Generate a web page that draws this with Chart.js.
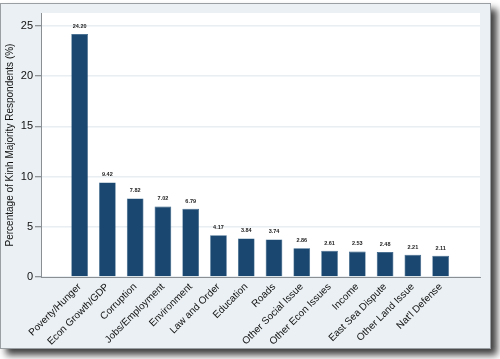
<!DOCTYPE html>
<html>
<head>
<meta charset="utf-8">
<script src="https://cdn.jsdelivr.net/npm/chart.js@4/dist/chart.umd.min.js"></script>
<style>
html,body{margin:0;padding:0;background:#ffffff;}
#wrap{width:500px;height:359px;position:relative;}
</style>
</head>
<body>
<div id="wrap"><canvas id="c" width="500" height="359"></canvas></div>
<script>
const categories = ["Poverty/Hunger","Econ Growth/GDP","Corruption","Jobs/Employment","Environment","Law and Order","Education","Roads","Other Social Issue","Other Econ Issues","Income","East Sea Dispute","Other Land Issue","Nat'l Defense"];
const percentages = [24.20, 9.42, 7.82, 7.02, 6.79, 4.17, 3.84, 3.74, 2.86, 2.61, 2.53, 2.48, 2.21, 2.11];
const yTicks = [0, 5, 10, 15, 20, 25];
const yTitle = "Percentage of Kinh Majority Respondents (%)";

const FONT = "'Liberation Sans', Arial, Helvetica, sans-serif";
const FRAME_BG = "#eaf0f3";
const BAR = "#1a476f";

const framePlugin = {
  id: 'frame',
  beforeDraw(chart) {
    const ctx = chart.ctx;
    const ca = chart.chartArea;
    ctx.save();
    ctx.fillStyle = '#ffffff';
    ctx.fillRect(0, 0, chart.width, chart.height);
    // shadow + frame
    ctx.shadowColor = 'rgba(0,0,0,0.75)';
    ctx.shadowBlur = 7;
    ctx.shadowOffsetX = 6;
    ctx.shadowOffsetY = 6;
    ctx.fillStyle = FRAME_BG;
    ctx.fillRect(0, 3, 491, 346);
    ctx.shadowColor = 'transparent';
    ctx.strokeStyle = '#9a9fa3';
    ctx.lineWidth = 1;
    ctx.strokeRect(0.5, 3.5, 490, 345);
    // plot area
    ctx.fillStyle = '#ffffff';
    ctx.fillRect(ca.left, ca.top, ca.right - ca.left, ca.bottom - ca.top);
    ctx.restore();
  }
};

const valueLabels = {
  id: 'valueLabels',
  afterDatasetsDraw(chart) {
    const ctx = chart.ctx;
    const meta = chart.getDatasetMeta(0);
    ctx.save();
    ctx.font = "bold 5.5px " + FONT;
    ctx.fillStyle = '#222222';
    ctx.textAlign = 'center';
    ctx.textBaseline = 'bottom';
    meta.data.forEach((bar, i) => {
      ctx.fillText(percentages[i].toFixed(2), bar.x, bar.y - 5);
    });
    ctx.restore();
  }
};

new Chart(document.getElementById('c'), {
  type: 'bar',
  data: {
    datasets: [{
      data: percentages.map((v, i) => ({x: i, y: v})),
      backgroundColor: BAR,
      borderColor: '#2a5880',
      borderWidth: 0.6,
      categoryPercentage: 1.0,
      barPercentage: 0.6
    }]
  },
  options: {
    responsive: false,
    animation: false,
    devicePixelRatio: 1,
    layout: { padding: { top: 13, right: 20, bottom: 0, left: 0 } },
    plugins: { legend: { display: false }, tooltip: { enabled: false } },
    scales: {
      x: {
        type: 'linear',
        min: -0.826,
        max: 13.853,
        afterBuildTicks: s => { s.ticks = categories.map((_, i) => ({ value: i })); },
        afterFit: s => { s.height = 82; },
        grid: { display: false, drawTicks: false },
        border: { display: true, color: '#8a8f93', width: 1 },
        ticks: {
          autoSkip: false,
          maxRotation: 45,
          minRotation: 45,
          padding: 4,
          color: '#111111',
          font: { family: FONT, size: 10 },
          callback: v => categories[v] !== undefined ? categories[v] : ''
        }
      },
      y: {
        min: 0,
        max: 26.3,
        afterBuildTicks: s => { s.ticks = yTicks.map(v => ({ value: v })); },
        afterFit: s => { s.width = 41; },
        grid: { color: '#e8eef1', lineWidth: 1.5, tickColor: '#6f7478', tickLength: 6, tickWidth: 1 },
        border: { display: true, color: '#8a8f93', width: 1 },
        ticks: {
          padding: 2,
          color: '#111111',
          font: { family: FONT, size: 11 }
        },
        title: {
          display: true,
          text: yTitle,
          color: '#111111',
          font: { family: FONT, size: 10 },
          padding: { top: 4, bottom: 0 }
        }
      }
    }
  },
  plugins: [framePlugin, valueLabels]
});
</script>
</body>
</html>
